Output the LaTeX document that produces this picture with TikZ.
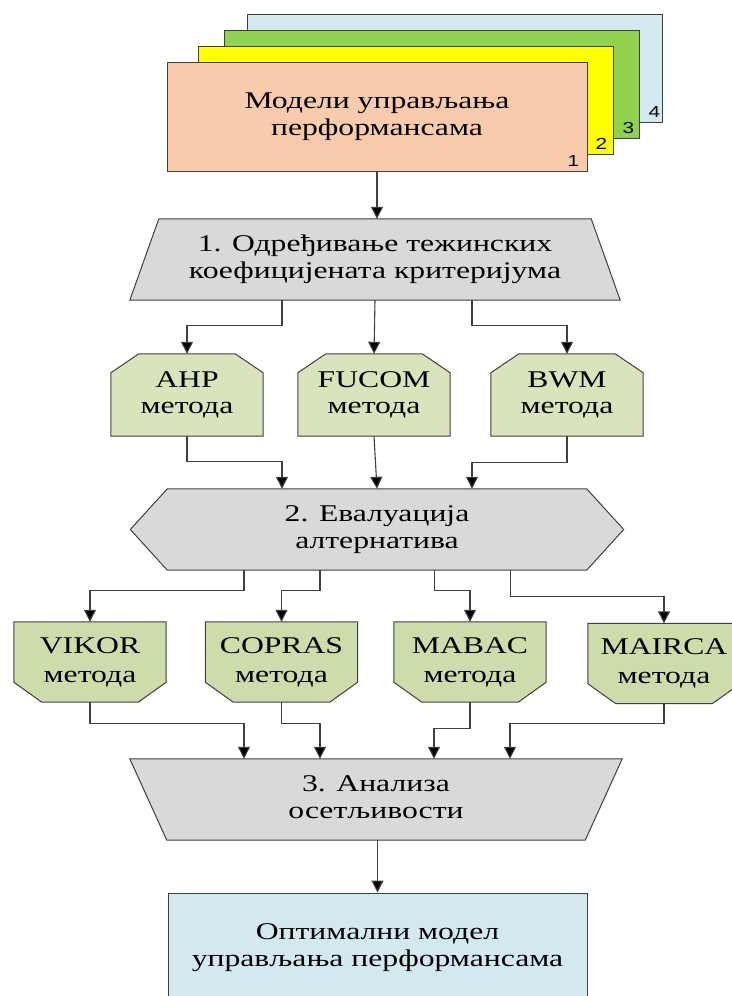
\documentclass[tikz,border=0pt]{standalone}
\usepackage{graphicx}
\usepackage{fontspec}
\setmainfont{Liberation Serif}
\newfontfamily\numfont{Liberation Sans}
\usetikzlibrary{arrows.meta,backgrounds}

\definecolor{peach}{HTML}{F8CBAD}
\definecolor{cardyellow}{HTML}{FFFF00}
\definecolor{cardgreen}{HTML}{92D050}
\definecolor{cardblue}{HTML}{D3E9EF}
\definecolor{stepgray}{HTML}{D9D9D9}
\definecolor{methodgreen}{HTML}{D8E4BC}
\definecolor{rankgreen}{HTML}{CCDCAA}
\definecolor{linegray}{HTML}{404040}

% two centred lines, widened horizontally
\newcommand\wtext[1]{\scalebox{1.32}[1]{\begin{tabular}{@{}c@{}}#1\end{tabular}}}

% outlines drawn behind the text nodes
\newcommand\trapnarrowtop[3]{\draw[outline,fill=#3] (#1.south west) -- (#1.south east)
  -- ([xshift=-#2]#1.north east) -- ([xshift=#2]#1.north west) -- cycle;}
\newcommand\trapnarrowbottom[3]{\draw[outline,fill=#3] (#1.north west) -- (#1.north east)
  -- ([xshift=-#2]#1.south east) -- ([xshift=#2]#1.south west) -- cycle;}
\newcommand\chamfertop[2]{\draw[outline,fill=#2] (#1.south west) -- (#1.south east)
  -- ([yshift=-19pt]#1.north east) -- ([xshift=-28pt]#1.north east)
  -- ([xshift=28pt]#1.north west) -- ([yshift=-19pt]#1.north west) -- cycle;}
\newcommand\chamferbottom[2]{\draw[outline,fill=#2] (#1.north west) -- (#1.north east)
  -- ([yshift=20pt]#1.south east) -- ([xshift=-28pt]#1.south east)
  -- ([xshift=28pt]#1.south west) -- ([yshift=20pt]#1.south west) -- cycle;}
\newcommand\hexagonbox[3]{\draw[outline,fill=#3] ([xshift=#2]#1.north west) -- ([xshift=-#2]#1.north east)
  -- (#1.east) -- ([xshift=-#2]#1.south east) -- ([xshift=#2]#1.south west) -- (#1.west) -- cycle;}

\tikzset{
  outline/.style={draw=linegray, line width=1pt},
  conn/.style={draw=linegray, line width=1.1pt},
  arr/.style={conn, -{Triangle[length=12pt,width=12pt,fill=black]}},
  txt/.style={rectangle, inner sep=0pt, font=\fontsize{24}{26.5}\selectfont},
  card/.style={txt, draw=linegray, line width=1pt, minimum width=415pt, minimum height=108pt},
  num/.style={inner sep=0pt, font=\numfont\fontsize{16}{16}\selectfont},
  method/.style={txt, minimum width=152pt, minimum height=82pt},
  ranker/.style={txt, font=\fontsize{24}{29}\selectfont, minimum width=152pt, minimum height=80pt},
}

\begin{document}
\begin{tikzpicture}[x=1pt,y=-1pt]
\useasboundingbox (0,0) rectangle (731,996);

% stack of performance-management models
\node[card, fill=cardblue]   (m4) at (454.5,68)  {};
\node[num] (n4) at ([xshift=-8pt,yshift=11pt]m4.south east) {\scalebox{1.3}[1]{4}};
\node[card, fill=cardgreen]  (m3) at (431.5,84)  {};
\node[num] (n3) at ([xshift=-11pt,yshift=11pt]m3.south east) {\scalebox{1.3}[1]{3}};
\node[card, fill=cardyellow] (m2) at (405.5,100.5) {};
\node[num] (n2) at ([xshift=-12pt,yshift=11pt]m2.south east) {\scalebox{1.3}[1]{2}};
\node[card, fill=peach, minimum width=420pt, minimum height=109pt] (m) at (377,116.5)
  {\wtext{Модели управљања\\перформансама}};
\node[num] (n1) at ([xshift=-14pt,yshift=11pt]m.south east) {\scalebox{1.3}[1]{1}};

% step 1 and weighting methods
\node[txt, minimum width=490pt, minimum height=81pt] (t1) at (375,259.5)
  {\wtext{1. Одређивање тежинских\\коефицијената критеријума}};
\node[method] (ahp) at (187,395) {\wtext{AHP\\метода}};
\node[method] (fuc) at (374,395) {\wtext{FUCOM\\метода}};
\node[method] (bwm) at (567,395) {\wtext{BWM\\метода}};

% step 2 and ranking methods
\node[txt, minimum width=493pt, minimum height=81pt] (h2) at (377,529.5)
  {\wtext{2. Евалуација\\алтернатива}};
\node[ranker] (vik) at (90,662)    {\wtext{VIKOR\\метода}};
\node[ranker] (cop) at (281.5,662) {\wtext{COPRAS\\метода}};
\node[ranker] (mab) at (470,662)   {\wtext{MABAC\\метода}};
\node[ranker] (mai) at (664,663.5) {\wtext{MAIRCA\\метода}};

% step 3 and result
\node[txt, minimum width=492pt, minimum height=81pt] (t3) at (376,799.5)
  {\wtext{3. Анализа\\осетљивости}};
\node[txt, draw=linegray, line width=1pt, fill=cardblue, minimum width=419pt, minimum height=109pt]
  (fin) at (377.5,947.5) {\wtext{Оптимални модел\\управљања перформансама}};

\begin{scope}[on background layer]
  \trapnarrowtop{t1}{29pt}{stepgray}
  \chamfertop{ahp}{methodgreen}
  \chamfertop{fuc}{methodgreen}
  \chamfertop{bwm}{methodgreen}
  \hexagonbox{h2}{37pt}{stepgray}
  \chamferbottom{vik}{rankgreen}
  \chamferbottom{cop}{rankgreen}
  \chamferbottom{mab}{rankgreen}
  \chamferbottom{mai}{rankgreen}
  \trapnarrowbottom{t3}{37pt}{stepgray}
\end{scope}

% connectors
\draw[arr] (m.south) -- (m.south |- t1.north);

\draw[arr] ([xshift=-93pt]t1.south) -- ++(0,25) -| (ahp.north);
\draw[arr] (t1.south) -- (fuc.north);
\draw[arr] ([xshift=97pt]t1.south) -- ++(0,25) -| (bwm.north);

\draw[arr] (ahp.south) -- ++(0,25) -| ([xshift=-95pt]h2.north);
\draw[arr] (fuc.south) -- (h2.north);
\draw[arr] (bwm.south) -- ++(0,26) -| ([xshift=95pt]h2.north);

\draw[arr] ([xshift=-133pt]h2.south) -- ++(0,20) -| (vik.north);
\draw[arr] ([xshift=-57pt]h2.south) -- ++(0,20) -| (cop.north);
\draw[arr] ([xshift=57.5pt]h2.south) -- ++(0,20) -| (mab.north);
\draw[arr] ([xshift=133.5pt]h2.south) -- ++(0,26) -| (mai.north);

\draw[arr] (vik.south) -- ++(0,21) -| ([xshift=-132pt]t3.north);
\draw[arr] (cop.south) -- ++(0,21) -| ([xshift=-56pt]t3.north);
\draw[arr] (mab.south) -- ++(0,26) -| ([xshift=58pt]t3.north);
\draw[arr] (mai.south) -- ++(0,20) -| ([xshift=134pt]t3.north);

\draw[arr] (fin.north |- t3.south) -- (fin.north);
\end{tikzpicture}
\end{document}
